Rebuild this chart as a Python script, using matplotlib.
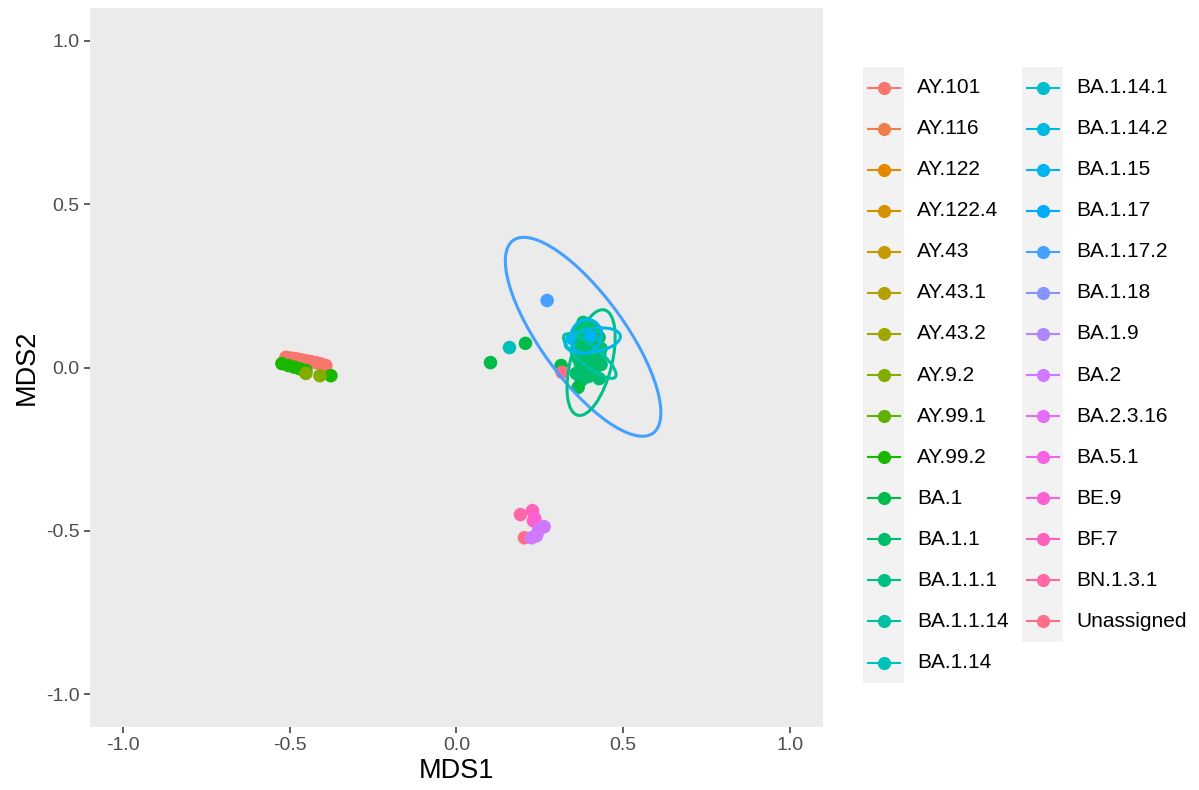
import numpy as np
import matplotlib
matplotlib.use("Agg")
import matplotlib.pyplot as plt
from matplotlib.patches import Ellipse, Rectangle
from matplotlib.lines import Line2D

plt.rcParams['font.family'] = ['Liberation Sans', 'DejaVu Sans']
plt.rcParams['axes.unicode_minus'] = False

lineages = ["AY.101", "AY.116", "AY.122", "AY.122.4", "AY.43", "AY.43.1", "AY.43.2",
            "AY.9.2", "AY.99.1", "AY.99.2", "BA.1", "BA.1.1", "BA.1.1.1", "BA.1.1.14",
            "BA.1.14", "BA.1.14.1", "BA.1.14.2", "BA.1.15", "BA.1.17", "BA.1.17.2",
            "BA.1.18", "BA.1.9", "BA.2", "BA.2.3.16", "BA.5.1", "BE.9", "BF.7",
            "BN.1.3.1", "Unassigned"]

# MDS coordinates (group, MDS1, MDS2), in drawing order
pt_group = (["AY.101"] * 9 + ["AY.99.2"] * 6 + ["AY.9.2"] * 2
            + ["BA.1.14.2"] * 4 + ["BA.1.17.2"] * 4 + ["BA.1.1.14"] * 4
            + ["BA.1.1.1"] * 4 + ["BA.1.15"] * 3
            + ["BA.1.1"] * 21 + ["BA.1"] * 4
            + ["BA.1.14"] + ["BA.1.15"] * 2
            + ["Unassigned"] + ["BN.1.3.1", "BF.7", "BF.7", "BE.9", "Unassigned"]
            + ["BA.2"] * 4)
pt_x = ([-0.512, -0.497, -0.482, -0.467, -0.452, -0.437, -0.422, -0.407, -0.392]
        + [-0.524, -0.505, -0.487, -0.470, -0.452, -0.377]
        + [-0.452, -0.410]
        + [0.380, 0.395, 0.425, 0.412]
        + [0.272, 0.400, 0.430, 0.420]
        + [0.375, 0.410, 0.395, 0.425]
        + [0.372, 0.430, 0.392, 0.418]
        + [0.380, 0.395, 0.390]
        + [0.380, 0.401, 0.419, 0.365, 0.395, 0.428, 0.374, 0.410, 0.434, 0.359, 0.389,
           0.422, 0.365, 0.401, 0.434, 0.377, 0.413, 0.359, 0.395, 0.428, 0.374]
        + [0.365, 0.314, 0.102, 0.207]
        + [0.159]
        + [0.347, 0.402]
        + [0.317]
        + [0.192, 0.228, 0.231, 0.235, 0.204]
        + [0.246, 0.263, 0.240, 0.225])
pt_y = ([0.031, 0.029, 0.027, 0.024, 0.021, 0.018, 0.015, 0.011, 0.006]
        + [0.012, 0.006, 0.001, -0.004, -0.009, -0.025]
        + [-0.018, -0.025]
        + [0.085, 0.080, 0.090, 0.075]
        + [0.205, 0.100, 0.060, 0.030]
        + [0.060, 0.030, 0.000, 0.050]
        + [0.010, 0.040, -0.020, 0.060]
        + [0.110, 0.085, 0.100]
        + [0.138, 0.126, 0.113, 0.107, 0.098, 0.092, 0.077, 0.070, 0.058, 0.052, 0.046,
           0.037, 0.028, 0.018, 0.009, 0.000, -0.009, -0.018, -0.028, -0.034, -0.040]
        + [-0.061, 0.006, 0.015, 0.074]
        + [0.061]
        + [0.089, 0.095]
        + [-0.015]
        + [-0.450, -0.438, -0.469, -0.462, -0.521]
        + [-0.499, -0.487, -0.515, -0.521])

# stat_ellipse outlines: group, centre, semi-axes, angle (deg)
ell_group = ["BA.1.17.2", "BA.1.1.1", "BA.1.1.14", "BA.1.14.2", "BA.1.15"]
ell_cx = [0.380, 0.404, 0.400, 0.409, 0.388]
ell_cy = [0.094, 0.015, 0.035, 0.083, 0.095]
ell_a = [0.362, 0.166, 0.100, 0.084, 0.053]
ell_b = [0.127, 0.062, 0.030, 0.036, 0.045]
ell_ang = [-54.7, 76.0, -40.0, 10.0, 70.0]


def hcl_hex(h, c=100.0, l=65.0):
    hr = np.radians(h)
    U, V = c * np.cos(hr), c * np.sin(hr)
    Xn, Yn, Zn = 95.047, 100.0, 108.883
    den = Xn + 15 * Yn + 3 * Zn
    un, vn = 4 * Xn / den, 9 * Yn / den
    Y = Yn * ((l + 16) / 116) ** 3
    u = U / (13 * l) + un
    v = V / (13 * l) + vn
    X = 9.0 * Y * u / (4 * v)
    Z = -X / 3 - 5 * Y + 3 * Y / v
    M = np.array([[3.240479, -1.537150, -0.498535],
                  [-0.969256, 1.875992, 0.041556],
                  [0.055648, -0.204043, 1.057311]])
    rgb = M @ np.array([X, Y, Z]) / 100
    rgb = np.where(rgb <= 0.0031308, 12.92 * rgb, 1.055 * np.abs(rgb) ** (1 / 2.4) - 0.055)
    return tuple(np.clip(rgb, 0, 1))


n = len(lineages)
hues = np.linspace(15, 375, n + 1)[:n]
pal = {lin: hcl_hex(h) for lin, h in zip(lineages, hues)}

W, H = 1199, 790
fig = plt.figure(figsize=(W / 100, H / 100), dpi=100)
ax = fig.add_axes([90 / W, (H - 727) / H, (823 - 90) / W, (727 - 8) / H])
ax.set_facecolor('#EBEBEB')
for s in ax.spines.values():
    s.set_visible(False)

ax.scatter(pt_x, pt_y, c=[pal[g] for g in pt_group], s=95, linewidths=0, zorder=2)
for g, cx, cy, a, b, ang in zip(ell_group, ell_cx, ell_cy, ell_a, ell_b, ell_ang):
    ax.add_patch(Ellipse((cx, cy), 2 * a, 2 * b, angle=ang, fill=False,
                         edgecolor=pal[g], lw=2.2, zorder=3))

ax.set_xlim(-1.1, 1.1)
ax.set_ylim(-1.1, 1.1)
ticks = [-1.0, -0.5, 0.0, 0.5, 1.0]
ax.set_xticks(ticks)
ax.set_yticks(ticks)
ax.set_xticklabels([f"{t:.1f}" for t in ticks])
ax.set_yticklabels([f"{t:.1f}" for t in ticks])
ax.tick_params(length=4.3, width=1.1, color='#333333', labelcolor='#4D4D4D',
               labelsize=14, pad=3)
ax.set_xlabel("MDS1", fontsize=19.5, labelpad=3)
ax.set_ylabel("MDS2", fontsize=19.5, labelpad=5)

# legend (two columns, ggplot style keys)
lax = fig.add_axes([0, 0, 1, 1], facecolor='none')
lax.set_xlim(0, W)
lax.set_ylim(H, 0)
lax.axis('off')
row_h = 41.07
top = 67
col_x = [863, 1022]
per_col = 15
for ci in range(2):
    items = lineages[ci * per_col:(ci + 1) * per_col]
    lax.add_patch(Rectangle((col_x[ci], top), 41, row_h * len(items),
                            facecolor='#F2F2F2', edgecolor='none'))
    for ri, lin in enumerate(items):
        yc = top + row_h * (ri + 0.5)
        xc = col_x[ci] + 20.5
        lax.add_line(Line2D([xc - 16, xc + 16], [yc, yc], color=pal[lin], lw=1.5))
        lax.plot([xc], [yc], 'o', color=pal[lin], ms=9.5, mec='none')
        lax.text(col_x[ci] + 54, yc, lin, fontsize=15, va='center', ha='left',
                 color='black')

fig.savefig("out.png", dpi=100, facecolor='white')
